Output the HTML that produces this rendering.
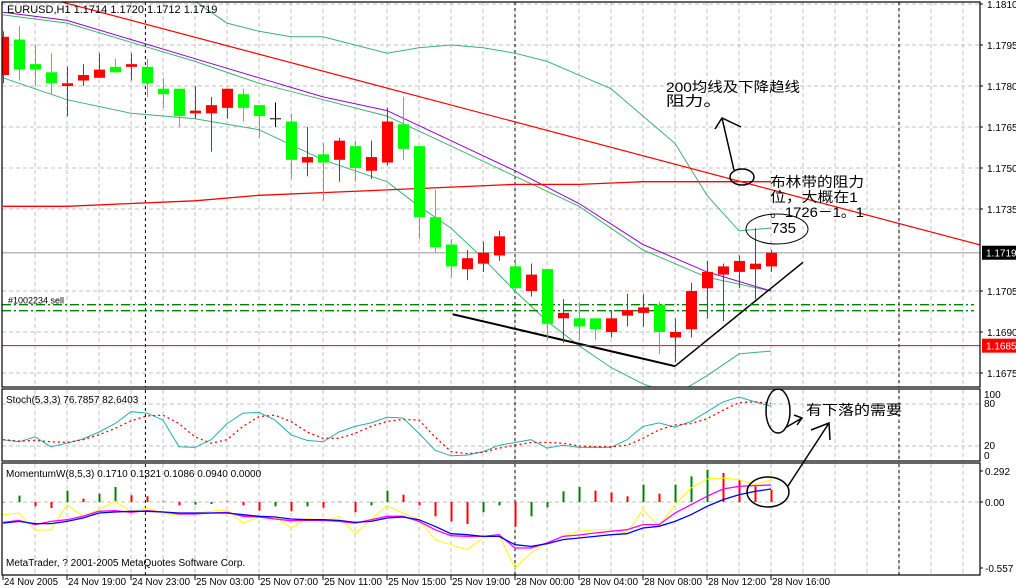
<!DOCTYPE html>
<html><head><meta charset="utf-8">
<style>
html,body{margin:0;padding:0;background:#fff;}
svg{display:block;font-family:"Liberation Sans","Noto Sans CJK SC",sans-serif;}
</style></head>
<body>
<svg id="chart" width="1016" height="588" viewBox="0 0 1016 588" xmlns="http://www.w3.org/2000/svg">
<rect x="0" y="0" width="1016" height="588" fill="#fff"/>
<g id="grid"></g>
<g id="main"></g>
<g id="stoch"></g>
<g id="mom"></g>
<g id="axes"></g>
<g id="notes" fill="none" stroke="#000" stroke-width="1.5">
  <path d="M734 170 L722 118 M715 129 L722 118 L741 127"/>
  <ellipse cx="742" cy="177" rx="12" ry="8"/>
  <ellipse cx="777" cy="229" rx="31" ry="15" stroke-width="1"/>
  <ellipse cx="778" cy="411" rx="12" ry="22"/>
  <path d="M785 428 L802 418 M794 415 L802 418 L797 425"/>
  <ellipse cx="768" cy="492" rx="21" ry="15"/>
  <path d="M788 486 L829 423 M811 430 L829 423 L830 440"/>
</g>
<g font-size="14" fill="#000">
  <text x="666" y="92" textLength="134" lengthAdjust="spacingAndGlyphs">200均线及下降趋线</text>
  <text x="666" y="106" textLength="56" lengthAdjust="spacingAndGlyphs">阻力。</text>
  <text x="770" y="187" textLength="94" lengthAdjust="spacingAndGlyphs">布林带的阻力</text>
  <text x="770" y="202" textLength="88" lengthAdjust="spacingAndGlyphs">位，大概在1</text>
  <text x="770" y="217" textLength="94" lengthAdjust="spacingAndGlyphs">。1726－1。1</text>
  <text x="771" y="233" font-size="15">735</text>
  <text x="806" y="415" textLength="96" lengthAdjust="spacingAndGlyphs">有下落的需要</text>
</g>
</svg>
<script>
// ---- data ----
const timeLabels = ["24 Nov 2005","24 Nov 19:00","24 Nov 23:00","25 Nov 03:00","25 Nov 07:00","25 Nov 11:00","25 Nov 15:00","25 Nov 19:00","28 Nov 00:00","28 Nov 04:00","28 Nov 08:00","28 Nov 12:00","28 Nov 16:00"];
const priceTicks = [1.1810,1.1795,1.1780,1.1765,1.1750,1.1735,1.1705,1.1690,1.1675];
const openP  = [1.1784,1.1797,1.1788,1.1785,1.1780,1.1782,1.1783,1.1787,1.1787,1.1787,1.1779,1.1779,1.1770,1.1770,1.1772,1.1777,1.1773,1.1768,1.1767,1.1752,1.1755,1.1753,1.1758,1.1749,1.1752,1.1766,1.1758,1.1732,1.1722,1.1713,1.1715,1.1718,1.1714,1.1705,1.1713,1.1695,1.1695,1.1695,1.1690,1.1696,1.1697,1.1700,1.1688,1.1691,1.1706,1.1711,1.1712,1.1713,1.1714];
const highP  = [1.1800,1.1802,1.1795,1.1792,1.1787,1.1788,1.1792,1.1790,1.1792,1.1790,1.1783,1.1779,1.1780,1.1776,1.1779,1.1779,1.1773,1.1774,1.1770,1.1765,1.1759,1.1761,1.1760,1.1760,1.1772,1.1776,1.1758,1.1742,1.1724,1.1720,1.1723,1.1727,1.1717,1.1715,1.1713,1.1702,1.1701,1.1695,1.1698,1.1704,1.1704,1.1701,1.1695,1.1708,1.1716,1.1715,1.1718,1.1728,1.1720];
const lowP   = [1.1781,1.1782,1.1780,1.1777,1.1769,1.1780,1.1783,1.1785,1.1782,1.1776,1.1772,1.1765,1.1768,1.1756,1.1768,1.1767,1.1761,1.1765,1.1746,1.1747,1.1738,1.1745,1.1745,1.1746,1.1751,1.1753,1.1724,1.1719,1.1710,1.1709,1.1712,1.1716,1.1704,1.1703,1.1687,1.1686,1.1687,1.1687,1.1688,1.1692,1.1692,1.1682,1.1679,1.1688,1.1695,1.1694,1.1706,1.1702,1.1712];
const closeP = [1.1798,1.1786,1.1786,1.1781,1.1781,1.1784,1.1786,1.1785,1.1788,1.1781,1.1777,1.1769,1.1771,1.1773,1.1779,1.1772,1.1769,1.1768,1.1753,1.1754,1.1752,1.1760,1.1750,1.1754,1.1767,1.1757,1.1732,1.1721,1.1714,1.1717,1.1719,1.1725,1.1706,1.1711,1.1693,1.1697,1.1692,1.1691,1.1695,1.1698,1.1699,1.1690,1.1690,1.1705,1.1712,1.1714,1.1716,1.1715,1.1719];
const sampleIdx = [0,4,8,12,16,20,24,28,32,36,40,44,48];
const ma200  = [1.1736,1.1736,1.1737,1.1738,1.1740,1.1741,1.1742,1.1743,1.1744,1.1744,1.1745,1.1745,1.1745];
const bbMid  = [1.1806,1.1803,1.1796,1.1789,1.1781,1.1775,1.1769,1.1758,1.1747,1.1736,1.1720,1.1710,1.1705];
const maFast = [1.1807,1.1804,1.1797,1.1790,1.1783,1.1776,1.1771,1.1760,1.1749,1.1737,1.1722,1.1712,1.1705];
const bbIdx  = [0,4,8,10,12,14,16,18,20,22,24,26,28,30,32,34,36,38,40,42,44,46,48];
const bbUp   = [1.1820,1.1818,1.1814,1.1812,1.1811,1.1803,1.1800,1.1798,1.1798,1.1795,1.1792,1.1794,1.1795,1.1794,1.1792,1.1789,1.1784,1.1779,1.1769,1.1759,1.1740,1.1727,1.1728];
const bbLoIdx= [0,4,8,12,16,20,24,26,28,30,32,34,36,38,40,42,44,46,48];
const bbLo   = [1.1783,1.1775,1.1770,1.1768,1.1764,1.1753,1.1745,1.1736,1.1728,1.1717,1.1705,1.1694,1.1685,1.1677,1.1671,1.1667,1.1674,1.1682,1.1683];
const downTrend = [[3.5,1.1811],[61.1,1.17218]];
const supportLine = [[28.1,1.16965],[42,1.16775]];
const riseLine = [[42,1.16775],[50,1.17155]];
const hLineRed = 1.1685, hLineSell1 = 1.17000, hLineSell2 = 1.16978, lastPrice = 1.1719;
const stochK = [29,26,33,19,24,30,40,52,69,67,57,19,18,29,52,67,68,57,36,28,26,40,48,53,61,60,38,14,6,7,12,21,25,29,17,21,18,18,18,29,48,53,47,55,69,83,90,83,77];
const stochD = [29,27,28,26,25,29,36,45,56,63,64,52,33,24,29,48,62,64,55,40,31,31,38,48,55,58,57,33,12,9,11,17,21,25,25,24,20,19,19,21,31,43,50,52,59,71,82,83,81];
const momHist = [0,0.057,-0.039,-0.054,0.101,0.030,0.074,0.134,0.060,0.051,0.005,-0.030,-0.024,-0.018,0.005,-0.030,-0.077,-0.039,-0.083,-0.039,-0.051,0.003,-0.092,-0.030,0.101,0.065,-0.030,-0.128,-0.173,-0.196,-0.092,-0.030,-0.217,-0.128,-0.048,0.095,0.134,0.101,0.086,0.051,0.155,0.074,0.155,0.229,0.289,0.259,0.199,0.140,0.110];
const momYellow = [-0.113,-0.098,-0.253,-0.247,-0.024,-0.128,-0.068,0.006,-0.083,-0.054,-0.104,-0.113,-0.098,-0.083,-0.068,-0.188,-0.134,-0.128,-0.232,-0.143,-0.173,-0.128,-0.283,-0.158,-0.033,-0.098,-0.158,-0.336,-0.381,-0.426,-0.321,-0.292,-0.589,-0.455,-0.366,-0.307,-0.262,-0.247,-0.247,-0.277,-0.068,-0.217,-0.024,0.125,0.205,0.214,0.199,0.155,0.199];
const momMagenta = [-0.182,-0.164,-0.202,-0.173,-0.158,-0.128,-0.083,-0.077,-0.092,-0.077,-0.089,-0.107,-0.107,-0.098,-0.092,-0.128,-0.134,-0.152,-0.167,-0.164,-0.164,-0.173,-0.188,-0.158,-0.128,-0.128,-0.173,-0.247,-0.301,-0.307,-0.307,-0.292,-0.411,-0.411,-0.366,-0.307,-0.295,-0.277,-0.262,-0.247,-0.202,-0.202,-0.098,-0.024,0.051,0.116,0.140,0.146,0.152];
const momBlue = [-0.188,-0.173,-0.193,-0.193,-0.173,-0.143,-0.098,-0.089,-0.083,-0.083,-0.089,-0.098,-0.098,-0.098,-0.098,-0.113,-0.128,-0.134,-0.152,-0.158,-0.158,-0.164,-0.182,-0.173,-0.143,-0.134,-0.158,-0.217,-0.283,-0.292,-0.307,-0.307,-0.381,-0.396,-0.372,-0.336,-0.321,-0.307,-0.292,-0.283,-0.232,-0.217,-0.173,-0.113,-0.039,0.021,0.065,0.095,0.116];

// ---- axes ----
const NS='http://www.w3.org/2000/svg';
const X = i => 3 + 16*i;
const PY = p => 4 + (1.1810 - p)*27333;
const SY = v => 460 - 0.7*v;
const MY = v => 502 - 112*v;
function el(tag, attrs, parent){const e=document.createElementNS(NS,tag);for(const k in attrs)e.setAttribute(k,attrs[k]);parent.appendChild(e);return e;}
const grid=document.getElementById('grid'), main=document.getElementById('main'), st=document.getElementById('stoch'), mo=document.getElementById('mom'), ax=document.getElementById('axes');
const R=980;
const defs=el('defs',{},document.getElementById('chart'));
const cp=el('clipPath',{id:'cm'},defs); el('rect',{x:2,y:2,width:978,height:385},cp);
const cp2=el('clipPath',{id:'cs'},defs); el('rect',{x:2,y:390,width:978,height:71},cp2);
main.setAttribute('clip-path','url(#cm)');

for(let k=1;3+32*k<R;k++){
  const x=3+32*k;
  [[2,387],[390,461],[464,575]].forEach(([a,b])=>{
    const l=el('line',{x1:x,y1:a,x2:x,y2:b,stroke:'#c0c0c0','stroke-dasharray':'4,3'},grid);
    
    
  });
}
priceTicks.forEach(p=>{
  const l=el('line',{x1:2,y1:PY(p),x2:R,y2:PY(p),stroke:'#c0c0c0','stroke-dasharray':'4,3'},grid);
  
  
});
[80,20].forEach(v=>{const l=el('line',{x1:2,y1:SY(v),x2:R,y2:SY(v),stroke:'#c0c0c0','stroke-dasharray':'4,3'},grid);
  
  });
{const l=el('line',{x1:2,y1:MY(0),x2:R,y2:MY(0),stroke:'#c0c0c0','stroke-dasharray':'4,3'},grid);
  
  }
[8.9,32,56].forEach(i=>{
  [[2,387],[390,461],[464,575]].forEach(([a,b])=>{
    const l=el('line',{x1:X(i),y1:a,x2:X(i),y2:b,stroke:'#000','stroke-dasharray':'3,3'},grid);
    
    
  });
});
{const l=el('line',{x1:2,y1:PY(lastPrice),x2:R,y2:PY(lastPrice),stroke:'#b8b8b8','stroke-width':1.5},main);
 
 }

function poly(idx, vals, yf, color, parent, name, extra){
  const pts=vals.map((v,k)=>X(idx?idx[k]:k)+','+yf(v).toFixed(1)).join(' ');
  const p=el('polyline',Object.assign({points:pts,fill:'none',stroke:color,'stroke-width':1},extra||{}),parent);
  
  
  return p;
}
poly(bbIdx,bbUp,PY,'#3cb371',main,'bollinger-upper');
poly(bbLoIdx,bbLo,PY,'#3cb371',main,'bollinger-lower');
poly(sampleIdx,bbMid,PY,'#3cb371',main,'bollinger-middle');
poly(sampleIdx,maFast,PY,'#9400d3',main,'moving-average-fast');
poly(sampleIdx,ma200,PY,'#ff0000',main,'ma200-line',{'stroke-width':1.3});
function tl(pts,color,w,name){const l=el('line',{x1:X(pts[0][0]),y1:PY(pts[0][1]),x2:X(pts[1][0]),y2:PY(pts[1][1]),stroke:color,'stroke-width':w},main);
  
  }
tl(downTrend,'#ff0000',1.2,'downtrend-line');
tl(supportLine,'#000',2,'support-trendline');
tl(riseLine,'#000',1.5,'rising-trendline');
{const l=el('line',{x1:2,y1:PY(hLineRed),x2:R,y2:PY(hLineRed),stroke:'#ff0000'},main);
 
 }
[hLineSell1,hLineSell2].forEach(p=>{const l=el('line',{x1:2,y1:PY(p),x2:974,y2:PY(p),stroke:'#008000','stroke-width':1.3,'stroke-dasharray':'9,3,2,3'},main);
 
 });
{const t=el('text',{x:8,y:PY(hLineSell1)-1,'font-size':9,fill:'#000'},main);t.textContent='#1002234 sell';
 
 }
openP.forEach((o,i)=>{
  const c=closeP[i],x=X(i);
  const g=el('g',{},main);
  
  
  const col = c>o ? '#ff0000' : (c<o ? '#00ff00' : '#000');
  el('line',{x1:x+0.5,y1:PY(highP[i]),x2:x+0.5,y2:PY(lowP[i]),stroke:col},g);
  const t=PY(Math.max(o,c)), b=PY(Math.min(o,c));
  if(c===o) el('line',{x1:x-5,y1:t,x2:x+6,y2:t,stroke:col},g);
  else el('rect',{x:x-5,y:t,width:11,height:Math.max(1,b-t),fill:col},g);
});
const sg=el('g',{'clip-path':'url(#cs)'},st);
poly(null,stochK,SY,'#20b2aa',sg,'stoch-k-line');
poly(null,stochD,SY,'#ff0000',sg,'stoch-d-line',{'stroke-dasharray':'2,3','stroke-width':1.3});
momHist.forEach((v,i)=>{
  const up = i>0 && v>momHist[i-1];
  const r=el('rect',{x:X(i)-0.5,y:Math.min(MY(0),MY(v)),width:2,height:Math.max(0.5,Math.abs(MY(v)-MY(0))),fill:up?'#008000':'#ff0000'},mo);
  
  
});
poly(null,momYellow,MY,'#ffff00',mo,'momentum-yellow-line');
poly(null,momMagenta,MY,'#ff00ff',mo,'momentum-magenta-line',{'stroke-width':1.3});
poly(null,momBlue,MY,'#0000ff',mo,'momentum-blue-line',{'stroke-width':1.3});

[[2,2,978,385,'price-panel-frame'],[2,389,978,72,'stoch-panel-frame'],[2,463,978,112,'momentum-panel-frame']].forEach(([x,y,w,h,n])=>{
  const r=el('rect',{x,y,width:w,height:h,fill:'none',stroke:'#000','stroke-width':1.2},ax);
  
  
});
priceTicks.forEach(p=>{
  el('line',{x1:R,y1:PY(p),x2:R+3,y2:PY(p),stroke:'#000'},ax);
  const t=el('text',{x:987,y:PY(p)+4,'font-size':10,fill:'#000'},ax);t.textContent=p.toFixed(4);
  
  
});
function tag(p,bg,name){
  el('rect',{x:982,y:PY(p)-7,width:34,height:14,fill:bg},ax);
  const t=el('text',{x:986,y:PY(p)+4,'font-size':10,fill:'#fff'},ax);t.textContent=p.toFixed(4);
  
  
}
tag(lastPrice,'#000','last-price-tag');
tag(hLineRed,'#ff0000','line-price-tag');
[[100,395],[80,404],[20,446],[0,456]].forEach(([v,y])=>{
  const t=el('text',{x:984,y:y+3,'font-size':10,fill:'#000'},ax);t.textContent=String(v);
  
  
});
[['0.292',471],['0.00',502],['-0.557',568]].forEach(([s,y])=>{
  el('line',{x1:R,y1:y,x2:R+3,y2:y,stroke:'#000'},ax);
  const t=el('text',{x:985,y:y+4,'font-size':10,fill:'#000'},ax);t.textContent=s;
  
  
});
timeLabels.forEach((s,k)=>{
  const x=X(4*k);
  el('line',{x1:x,y1:575,x2:x,y2:580,stroke:'#000'},ax);
  const t=el('text',{x:x+1,y:585,'font-size':10,fill:'#000',textLength:k===0?54:58,lengthAdjust:'spacingAndGlyphs'},ax);t.textContent=s;
  
  
});
[['EURUSD,H1  1.1714 1.1720 1.1712 1.1719',7,13,11,'chart-title'],
 ['Stoch(5,3,3) 76.7857 82.6403',6,403,10,'stoch-title'],
 ['MomentumW(8,5,3) 0.1710 0.1321 0.1086 0.0940 0.0000',6,477,10,'momentum-title'],
 ['MetaTrader, ? 2001-2005 MetaQuotes Software Corp.',6,566,10,'copyright-text']].forEach(([s,x,y,f,n])=>{
  const t=el('text',{x,y,'font-size':f,fill:'#000'},ax);t.textContent=s;
  
  
});
</script>
</body></html>
